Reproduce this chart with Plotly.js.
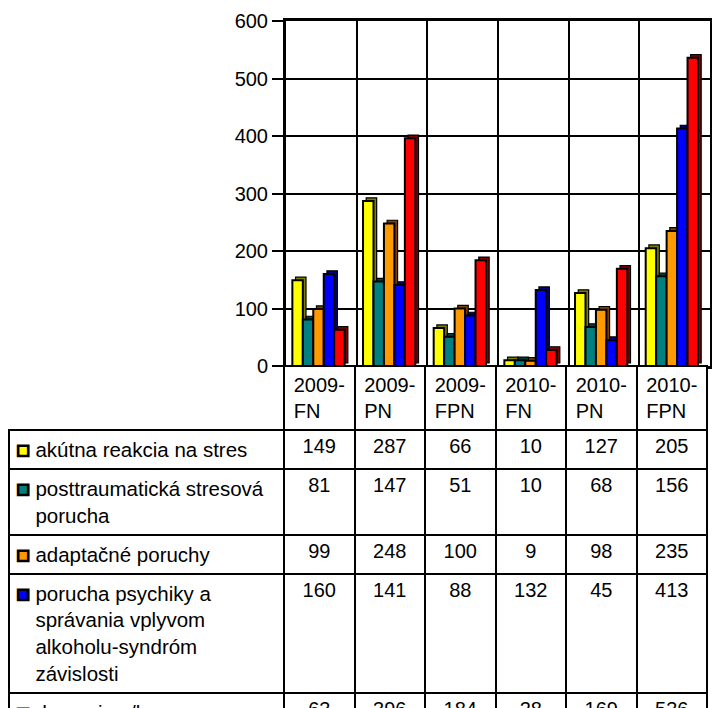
<!DOCTYPE html>
<html>
<head>
<meta charset="utf-8">
<script src="https://cdn.plot.ly/plotly-3.0.1.min.js"></script>
<style>
html,body{margin:0;padding:0;background:#fff;overflow:hidden;}
#chart{width:712px;height:760px;}
</style>
</head>
<body>
<div id="chart"></div>
<script>
// ---- data ----
var categories = ['2009-FN', '2009-PN', '2009-FPN', '2010-FN', '2010-PN', '2010-FPN'];
var seriesNames = [
  'akútna reakcia na stres',
  'posttraumatická stresová porucha',
  'adaptačné poruchy',
  'porucha psychiky a správania vplyvom alkoholu-syndróm závislosti',
  'depresia s/bez'
];
var tableLabels = [
  ['akútna reakcia na stres'],
  ['posttraumatická stresová', 'porucha'],
  ['adaptačné poruchy'],
  ['porucha psychiky a', 'správania vplyvom', 'alkoholu-syndróm', 'závislosti'],
  ['depresia s/bez']
];
var akutna = [149, 287, 66, 10, 127, 205];
var posttraumaticka = [81, 147, 51, 10, 68, 156];
var adaptacne = [99, 248, 100, 9, 98, 235];
var alkohol = [160, 141, 88, 132, 45, 413];
var depresia = [63, 396, 184, 28, 169, 536];
var yTicks = [0, 100, 200, 300, 400, 500, 600];

var series = [akutna, posttraumaticka, adaptacne, alkohol, depresia];
var colors = ['#FFFF00', '#008080', '#FF9900', '#0000FF', '#FF0000'];
var darkColors = ['#808000', '#004040', '#804000', '#000080', '#800000'];

// ---- geometry (pixels) ----
var W = 712, H = 760;
var mL = 9, mR = 2, mT = 21, mB = 0;
var pw = W - mL - mR, ph = H - mT - mB;
var plotLeft = 286, plotRight = 710, plotBottom = 366;
var tableTop = 366, tableRight = 707;

var barW = 0.148, startOff = -0.41, dx = 0.045, dy = 5.5;
var FONT = 'Liberation Sans, Arial, sans-serif';

var traces = [];
for (var i = 0; i < series.length; i++) {
  var off = startOff + i * barW;
  // depth (side/top) face
  traces.push({
    type: 'bar', x: categories, y: series[i],
    base: categories.map(function(){ return dy; }),
    offset: off + dx, width: barW,
    marker: {color: darkColors[i], line: {color: '#000', width: 1.2}},
    showlegend: false, hoverinfo: 'skip'
  });
  // front face
  traces.push({
    type: 'bar', x: categories, y: series[i], name: seriesNames[i],
    offset: off, width: barW,
    marker: {color: colors[i], line: {color: '#000', width: 2}},
    showlegend: false
  });
}

// ---- table ----
function key(color, visible) {
  var st = visible ? ('color:' + color + ';stroke:#000;stroke-width:2.6px;font-size:21px')
                   : 'color:rgba(0,0,0,0);font-size:21px';
  return '<span style="' + st + '">■</span> ';
}
var labelCells = tableLabels.map(function(lines, i) {
  var txt = lines.map(function(l, k) { return key(colors[i], k === 0) + l; }).join('<br>');
  if (lines.length === 1) txt += '<br>';
  return txt;
});
var cellCols = [labelCells];
categories.forEach(function(c, j) {
  cellCols.push(series.map(function(s) { return String(s[j]); }));
});
var headerVals = [''].concat(categories.map(function(c) { return c.replace('-', '-<br>'); }));

traces.push({
  type: 'table',
  domain: {x: [0, (tableRight - mL) / pw], y: [0, (H - mB - tableTop) / ph]},
  columnwidth: [275, 70.5, 70.5, 70.5, 70.5, 70.5, 70.5],
  header: {
    values: headerVals,
    align: 'center', height: 64,
    font: {family: FONT, size: 20, color: '#000'},
    fill: {color: ['rgba(0,0,0,0)', '#fff', '#fff', '#fff', '#fff', '#fff', '#fff']},
    line: {color: ['rgba(0,0,0,0)', '#000', '#000', '#000', '#000', '#000', '#000'], width: 2}
  },
  cells: {
    values: cellCols,
    align: ['left', 'center', 'center', 'center', 'center', 'center', 'center'],
    height: 36,
    font: {family: FONT, size: [20.5, 20, 20, 20, 20, 20, 20], color: '#000'},
    fill: {color: '#fff'},
    line: {color: '#000', width: 2}
  }
});

var layout = {
  width: W, height: H,
  margin: {l: mL, r: mR, t: mT, b: mB},
  paper_bgcolor: '#fff', plot_bgcolor: '#fff',
  barmode: 'overlay',
  showlegend: false,
  font: {family: FONT, size: 20, color: '#000'},
  xaxis: {
    type: 'category', categoryarray: categories, categoryorder: 'array',
    domain: [(plotLeft - mL) / pw, (plotRight - mL) / pw],
    range: [-0.5, categories.length - 0.5],
    tickson: 'boundaries', showgrid: true, gridcolor: '#000', gridwidth: 2,
    showticklabels: false, ticks: '',
    showline: true, linecolor: '#000', linewidth: 3, mirror: true,
    zeroline: false, fixedrange: true
  },
  yaxis: {
    domain: [(H - mB - plotBottom) / ph, 1],
    range: [0, 600], tickvals: yTicks,
    showgrid: true, gridcolor: '#000', gridwidth: 2,
    ticks: 'outside', ticklen: 11, tickwidth: 2, tickcolor: '#000',
    tickfont: {family: FONT, size: 20, color: '#000'},
    showline: true, linecolor: '#000', linewidth: 3, mirror: true,
    zeroline: false, fixedrange: true
  }
};

Plotly.newPlot('chart', traces, layout, {displayModeBar: false, staticPlot: true});
</script>
</body>
</html>
